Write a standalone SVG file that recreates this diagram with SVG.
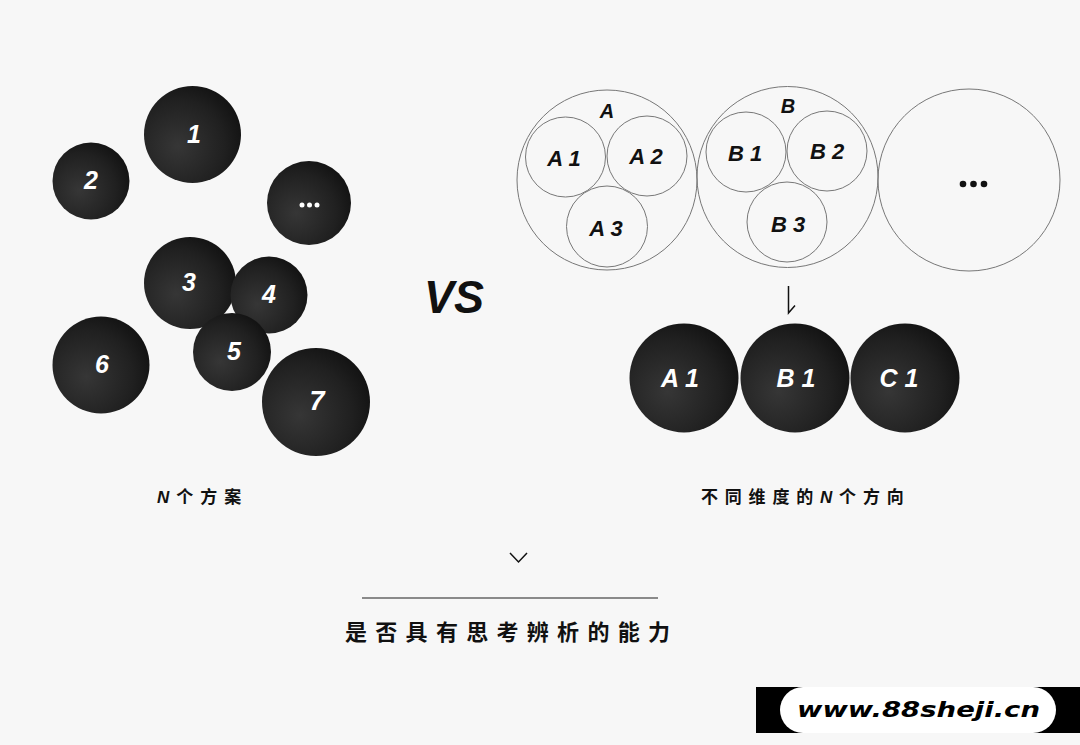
<svg xmlns="http://www.w3.org/2000/svg" width="1080" height="745" viewBox="0 0 1080 745">
  <defs>
    <radialGradient id="ball" cx="0.35" cy="0.62" r="0.8">
      <stop offset="0" stop-color="#363636"/>
      <stop offset="0.6" stop-color="#202020"/>
      <stop offset="1" stop-color="#0c0c0c"/>
    </radialGradient>
    <style>
      .ball { fill: url(#ball); }
      .num { font-family: "Liberation Sans", Arial, sans-serif; font-weight: bold; font-style: italic; fill: #fff; text-anchor: middle; }
      .ring { fill: none; stroke: #777; stroke-width: 1; }
      .lbl { font-family: "Liberation Sans", Arial, sans-serif; font-weight: bold; font-style: italic; fill: #111; text-anchor: middle; }
      .cjk { font-family: "Noto Sans CJK SC", "Liberation Sans", sans-serif; font-weight: bold; fill: #111; }
      .line { stroke: #111; fill: none; stroke-width: 1.5; }
    </style>
  </defs>
  <rect width="1080" height="745" fill="#f7f7f7"/>

  <!-- Left: N options -->
  <g id="opt-1"><circle class="ball" cx="192.5" cy="134.5" r="48.5"/><text class="num" x="194" y="143" font-size="25">1</text></g>
  <g id="opt-2"><circle class="ball" cx="91" cy="181" r="38.5"/><text class="num" x="91" y="189" font-size="25">2</text></g>
  <g id="opt-more"><circle class="ball" cx="309" cy="203" r="42"/>
    <circle cx="302" cy="205" r="2.5" fill="#fff"/><circle cx="309.5" cy="205" r="2.5" fill="#fff"/><circle cx="317" cy="205" r="2.5" fill="#fff"/></g>
  <g id="opt-3"><circle class="ball" cx="190" cy="283" r="46"/><text class="num" x="189" y="291" font-size="25">3</text></g>
  <g id="opt-4"><circle class="ball" cx="269" cy="295" r="38.5"/><text class="num" x="269" y="303" font-size="25">4</text></g>
  <g id="opt-5"><circle class="ball" cx="232" cy="352" r="39"/><text class="num" x="234" y="360" font-size="25">5</text></g>
  <g id="opt-6"><circle class="ball" cx="101" cy="365" r="48.5"/><text class="num" x="102" y="373" font-size="25">6</text></g>
  <g id="opt-7"><circle class="ball" cx="316" cy="402" r="54"/><text class="num" x="317" y="410" font-size="27">7</text></g>
  <g id="label-left"><text class="cjk" x="157" y="503" font-size="17" letter-spacing="7"><tspan font-family="Liberation Sans, Arial, sans-serif" font-weight="bold" font-style="italic">N</tspan>个方案</text></g>

  <!-- VS -->
  <g id="vs"><text x="454" y="313" font-family="Liberation Sans, Arial, sans-serif" font-weight="bold" font-style="italic" font-size="47" text-anchor="middle" fill="#111" textLength="60" lengthAdjust="spacingAndGlyphs">VS</text></g>

  <!-- Right: dimensions -->
  <g id="dim-A">
    <circle class="ring" cx="607" cy="180" r="90"/>
    <text class="lbl" x="607" y="118" font-size="20">A</text>
    <g id="dim-A1"><circle class="ring" cx="565.5" cy="157" r="40"/><text class="lbl" x="564" y="166" font-size="22">A 1</text></g>
    <g id="dim-A2"><circle class="ring" cx="647" cy="156" r="40"/><text class="lbl" x="646" y="164" font-size="22">A 2</text></g>
    <g id="dim-A3"><circle class="ring" cx="607" cy="226.5" r="40.5"/><text class="lbl" x="606" y="236" font-size="22">A 3</text></g>
  </g>
  <g id="dim-B">
    <circle class="ring" cx="787.5" cy="177" r="90.5"/>
    <text class="lbl" x="788" y="113" font-size="20">B</text>
    <g id="dim-B1"><circle class="ring" cx="746" cy="152" r="40"/><text class="lbl" x="745" y="161" font-size="22">B 1</text></g>
    <g id="dim-B2"><circle class="ring" cx="827" cy="151" r="40"/><text class="lbl" x="827" y="159" font-size="22">B 2</text></g>
    <g id="dim-B3"><circle class="ring" cx="787" cy="222" r="40"/><text class="lbl" x="788" y="232" font-size="22">B 3</text></g>
  </g>
  <g id="dim-more">
    <circle class="ring" cx="969" cy="180" r="91"/>
    <circle cx="963" cy="184" r="3.3" fill="#111"/><circle cx="973.5" cy="184" r="3.3" fill="#111"/><circle cx="984" cy="184" r="3.3" fill="#111"/>
  </g>

  <g id="connectors">
    <path class="line" d="M788.5 286 V313 L795 305.5" stroke-width="1.2"/>
    <path class="line" d="M510 553 L518.5 562 L527 553" stroke-width="1.8"/>
    <line x1="362" y1="598" x2="658" y2="598" stroke="#666" stroke-width="1.5"/>
  </g>

  <g id="dir-A1"><circle class="ball" cx="684" cy="378" r="54.5"/><text class="num" x="680" y="387" font-size="25">A 1</text></g>
  <g id="dir-B1"><circle class="ball" cx="795" cy="378" r="54.5"/><text class="num" x="796" y="387" font-size="25">B 1</text></g>
  <g id="dir-C1"><circle class="ball" cx="905" cy="378" r="54.5"/><text class="num" x="899" y="387" font-size="25">C 1</text></g>
  <g id="label-right"><text class="cjk" x="701" y="503" font-size="17" letter-spacing="6.8">不同维度的<tspan font-family="Liberation Sans, Arial, sans-serif" font-weight="bold" font-style="italic">N</tspan>个方向</text></g>

  <g id="conclusion"><text class="cjk" x="345" y="640" font-size="22" letter-spacing="8.3">是否具有思考辨析的能力</text></g>

  <g id="watermark">
    <rect x="756" y="687" width="324" height="46" fill="#000"/>
    <rect x="780" y="687" width="276" height="46" rx="23" fill="#fff"/>
    <text x="797" y="717" font-family="DejaVu Sans, sans-serif" font-weight="bold" font-style="italic" font-size="22" fill="#000" textLength="243" lengthAdjust="spacingAndGlyphs">www.88sheji.cn</text>
  </g>
</svg>
